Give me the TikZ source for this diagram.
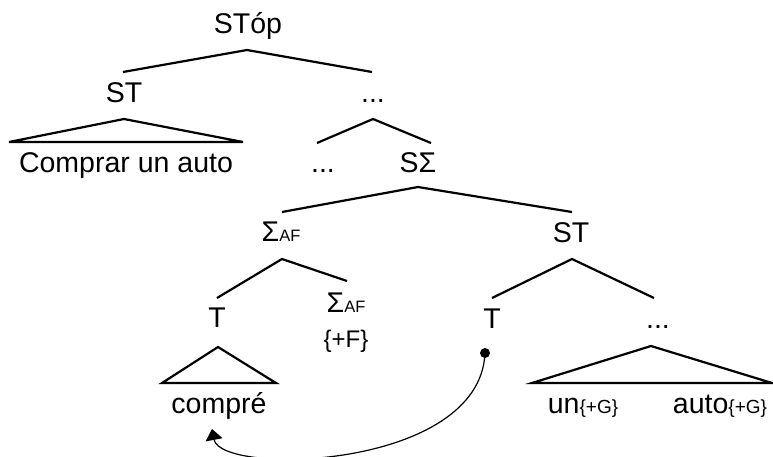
\documentclass[tikz,border=0pt]{standalone}
\usepackage{fontspec}
\setmainfont{Liberation Sans}
\usetikzlibrary{arrows.meta}
\begin{document}
\begin{tikzpicture}[x=1pt,y=-1pt,
  lab/.style={anchor=base,inner sep=0pt,font=\fontsize{28.5}{32}\selectfont},
  labm/.style={anchor=base,inner sep=0pt,font=\fontsize{24}{28}\selectfont},
  br/.style={line width=2.2pt,line join=miter},
  conn/.style={line width=1.2pt,-{Triangle[width=17pt,length=11pt]}}]
\useasboundingbox (0,0) rectangle (773,456);
\newcommand{\subf}[1]{{\fontsize{16.5}{20}\selectfont #1}}
\newcommand{\subg}[1]{{\fontsize{19}{22}\selectfont #1}}
% labels
\node[lab] (STop) at (248,33) {STóp};
\node[lab] (ST1) at (124,102) {ST};
\node[lab] (dots1) at (373,102) {...};
\node[lab] (comprar) at (126,172) {Comprar un auto};
\node[lab] (dots2) at (323,172) {...};
\node[lab] (SSig) at (418,172) {SΣ};
\node[lab] (SigAF) at (281,241) {Σ\subf{AF}};
\node[lab] (ST2) at (571,242) {ST};
\node[lab] (T1) at (217,327) {T};
\node[lab] (SigAF2) at (346,312) {Σ\subf{AF}};
\node[labm] (plusF) at (346,347) {\{+F\}};
\node[lab] (T2) at (492,328) {T};
\node[lab] (dots3) at (658,328) {...};
\node[lab] (compre) at (219,413) {compré};
\node[lab] (un) at (583,413) {un\subg{\{+G\}}};
\node[lab] (auto) at (720,413) {auto\subg{\{+G\}}};
% branch coordinates
\coordinate (a0) at (247,50);
\coordinate (a0l) at (123,72);
\coordinate (a0r) at (372,72);
\coordinate (t1) at (124,119);
\coordinate (t1l) at (9,142);
\coordinate (t1r) at (243,142);
\coordinate (a1) at (373,119);
\coordinate (a1l) at (317,143);
\coordinate (a1r) at (431,143);
\coordinate (a2) at (418,187);
\coordinate (a2l) at (282,212);
\coordinate (a2r) at (572,212);
\coordinate (a3) at (282,259);
\coordinate (a3l) at (217,298);
\coordinate (a3r) at (347,281);
\coordinate (a4) at (572,259);
\coordinate (a4l) at (492,298);
\coordinate (a4r) at (654,298);
\coordinate (t2) at (218,347);
\coordinate (t2l) at (162,383);
\coordinate (t2r) at (276,383);
\coordinate (t3) at (651,346);
\coordinate (t3l) at (532,383);
\coordinate (t3r) at (772,383);
\coordinate (dotc) at (485,353);
\coordinate (tip) at (212,429);
% branches
\draw[br] (a0l) -- (a0) -- (a0r);
\draw[br] (t1l) -- (t1) -- (t1r) -- cycle;
\draw[br] (a1l) -- (a1) -- (a1r);
\draw[br] (a2l) -- (a2) -- (a2r);
\draw[br] (a3l) -- (a3) -- (a3r);
\draw[br] (a4l) -- (a4) -- (a4r);
\draw[br] (t2l) -- (t2) -- (t2r) -- cycle;
\draw[br] (t3l) -- (t3) -- (t3r) -- cycle;
% movement
\fill (dotc) circle (5);
\draw[conn] (dotc) .. controls (480,470) and (221,476) .. (tip);
\end{tikzpicture}
\end{document}
